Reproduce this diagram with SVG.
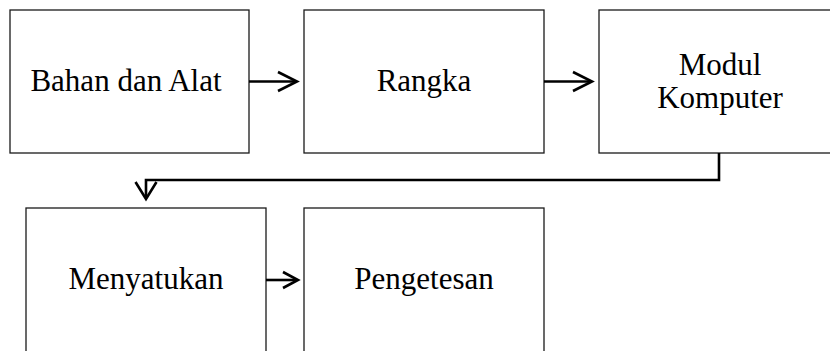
<svg xmlns="http://www.w3.org/2000/svg" width="830" height="351" viewBox="0 0 830 351">
<style>
.box{fill:#fff;stroke:#1a1a1a;stroke-width:1.3}
.lbl{font-family:"Liberation Serif","Times New Roman",serif;font-size:31px;fill:#000;text-anchor:middle}
.con{fill:none;stroke:#000;stroke-width:2.6;stroke-linejoin:miter}
.head{fill:none;stroke:#000;stroke-width:2.6;stroke-linecap:butt;stroke-linejoin:miter}
</style>
<rect width="830" height="351" fill="#fff"/>
<g id="node-bahan"><rect class="box" x="10" y="10" width="239" height="143"/><text class="lbl" x="126" y="91">Bahan dan Alat</text></g>
<g id="node-rangka"><rect class="box" x="304" y="10" width="240" height="143"/><text class="lbl" x="424" y="91">Rangka</text></g>
<g id="node-modul"><rect class="box" x="599" y="10" width="242" height="143"/><text class="lbl" x="720" y="75">Modul</text><text class="lbl" x="720" y="108">Komputer</text></g>
<g id="node-menyatukan"><rect class="box" x="26" y="208" width="240" height="160"/><text class="lbl" x="146" y="289">Menyatukan</text></g>
<g id="node-pengetesan"><rect class="box" x="304" y="208" width="240" height="160"/><text class="lbl" x="424" y="289">Pengetesan</text></g>
<g id="connectors">
<path class="con" d="M249 81.5H296"/>
<path class="head" d="M278 72L297 81.5L278 91"/>
<path class="con" d="M544 81.5H591"/>
<path class="head" d="M573 72L592 81.5L573 91"/>
<path class="con" d="M719 153V180H146V198"/>
<path class="head" d="M135.5 182L146 199L156.5 182"/>
<path class="con" d="M266 280H296"/>
<path class="head" d="M283 272L298 280L283 288"/>
</g>
</svg>
